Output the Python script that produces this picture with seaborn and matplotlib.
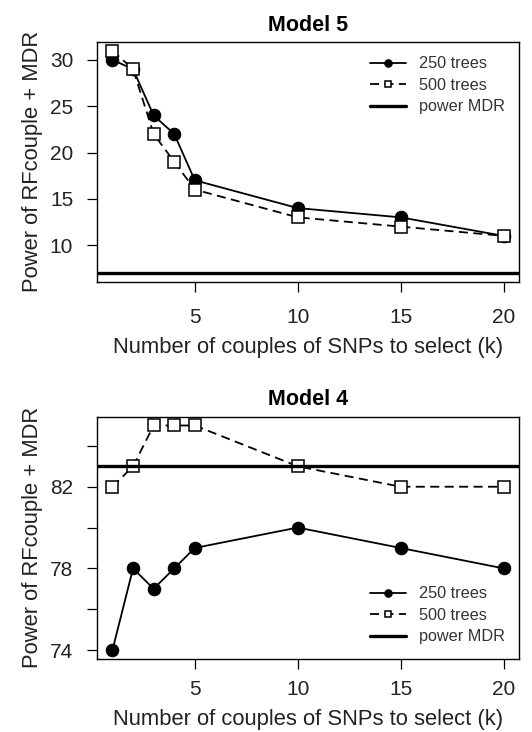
import pandas as pd
import matplotlib.pyplot as plt
import seaborn as sns

# values
k_values = [1, 2, 3, 4, 5, 10, 15, 20]
m5_250 = [30, 29, 24, 22, 17, 14, 13, 11]
m5_500 = [31, 29, 22, 19, 16, 13, 12, 11]
m5_mdr = 7
m4_250 = [74, 78, 77, 78, 79, 80, 79, 78]
m4_500 = [82, 83, 85, 85, 85, 83, 82, 82]
m4_mdr = 83
x_ticks = [5, 10, 15, 20]
m5_yticks = [10, 15, 20, 25, 30]
m4_yticks = [74, 76, 78, 80, 82, 84]
m4_ylabels = ["74", "", "78", "", "82", ""]

sns.set_style("ticks")
plt.rcParams['font.family'] = ['Liberation Sans', 'DejaVu Sans']
TXT = "#222222"


def panel(ax, title, s250, s500, mdr, yticks, ylabels, legend_loc, xpad_pts):
    df = pd.DataFrame({
        "k": k_values * 2,
        "power": s250 + s500,
        "trees": ["250 trees"] * len(k_values) + ["500 trees"] * len(k_values),
    })
    sns.lineplot(data=df[df.trees == "250 trees"], x="k", y="power", ax=ax,
                 color="black", lw=1.3, marker="o", markersize=9,
                 markeredgecolor="black", label="250 trees")
    sns.lineplot(data=df[df.trees == "500 trees"], x="k", y="power", ax=ax,
                 color="black", lw=1.3, ls=(0, (5, 3)), marker="s", markersize=8,
                 markerfacecolor="white", markeredgecolor="black",
                 markeredgewidth=1.1, label="500 trees")
    ax.axhline(mdr, color="black", lw=2.4, label="power MDR")

    lo = min(s250 + s500 + [mdr])
    hi = max(s250 + s500 + [mdr])
    pad = (hi - lo) * 0.04
    ax.set_ylim(lo - pad, hi + pad)
    xpad = (max(k_values) - min(k_values)) * 0.04
    ax.set_xlim(min(k_values) - xpad, max(k_values) + xpad)

    ax.set_xticks(x_ticks)
    ax.set_yticks(yticks)
    ax.set_yticklabels(ylabels)
    ax.tick_params(axis="both", direction="out", length=7, width=0.9,
                   labelsize=15, colors=TXT)
    ax.tick_params(axis="both", color="black")
    ax.tick_params(axis="x", pad=xpad_pts)
    ax.tick_params(axis="y", pad=10)
    for s in ax.spines.values():
        s.set_visible(True)
        s.set_linewidth(1.0)
        s.set_color("black")
    ax.set_title(title, fontsize=15.5, fontweight="bold", color="black", pad=8)
    ax.set_xlabel("Number of couples of SNPs to select (k)", fontsize=15.8,
                  color=TXT, labelpad=7)
    ax.set_ylabel("Power of RFcouple + MDR", fontsize=15.8, color=TXT, labelpad=5)
    leg = ax.legend(loc=legend_loc, frameon=False, fontsize=11.7, handlelength=2.2,
                    handletextpad=0.8, labelspacing=0.4, borderaxespad=0.5,
                    markerscale=0.6)
    for t in leg.get_texts():
        t.set_color("#333333")


fig = plt.figure(figsize=(5.32, 7.32), dpi=100)
ax1 = fig.add_axes([0.182, 0.615, 0.794, 0.328])
ax2 = fig.add_axes([0.182, 0.0997, 0.794, 0.3313])

panel(ax1, "Model 5", m5_250, m5_500, m5_mdr, m5_yticks,
      [str(v) for v in m5_yticks], "upper right", 12)
panel(ax2, "Model 4", m4_250, m4_500, m4_mdr, m4_yticks, m4_ylabels,
      "lower right", 8)

fig.savefig("out.png", dpi=100)
